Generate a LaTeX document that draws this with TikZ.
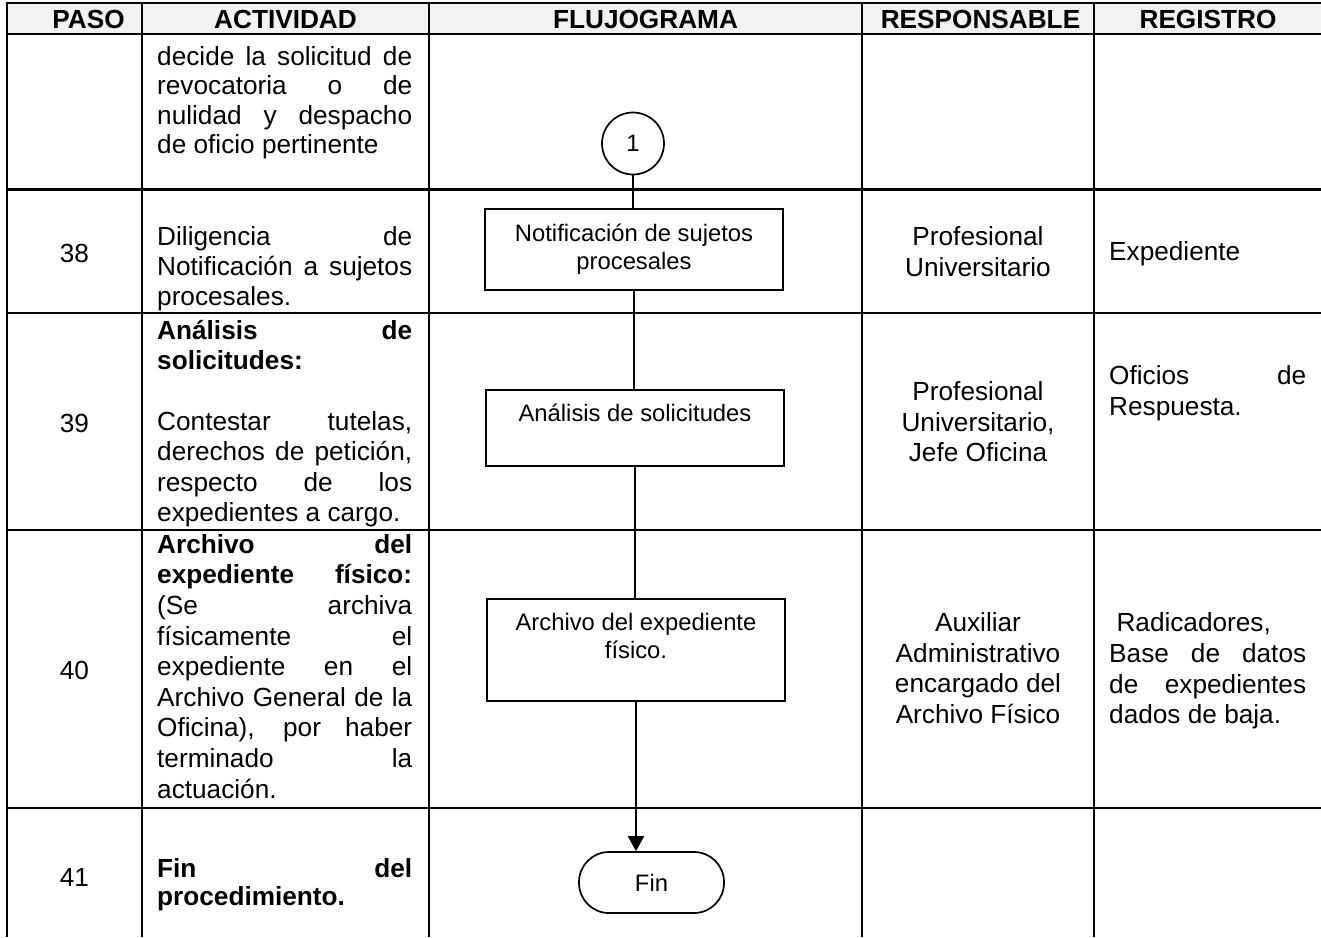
\documentclass[tikz,border=0pt]{standalone}
\usepackage{fontspec}
\setmainfont{Liberation Sans}
\usetikzlibrary{arrows.meta}
\newcommand{\jline}[2]{\makebox[#1][s]{#2}}
\begin{document}
\begin{tikzpicture}[x=1pt,y=-1pt,
  grid/.style={line width=2.7pt,black},
  hdr/.style={font=\fontsize{26.2}{30}\selectfont\bfseries,inner sep=0},
  num/.style={font=\fontsize{26.2}{30}\selectfont,inner sep=0},
  txt/.style={font=\fontsize{26.2}{30.4}\selectfont,inner sep=0,align=left,anchor=base west},
  ctr/.style={font=\fontsize{26.2}{30.6}\selectfont,inner sep=0,align=center,anchor=base},
  proc/.style={draw=black,line width=1.7pt,fill=white,minimum width=298pt,font=\fontsize{23.8}{28}\selectfont,align=center,inner sep=0},
  conn/.style={line width=2pt,black},
]
\useasboundingbox (0,0) rectangle (1321,937);
\fill[black!5] (7,3) rectangle (1321,34);
\foreach \y in {3,34,189.5,313,530,808} \draw[grid] (5.65,\y) -- (1321,\y);
\foreach \x in {7,142,429,862,1094} \draw[grid] (\x,1.65) -- (\x,937);

% headers
\node[hdr] (hpaso) at (88.5,19) {PASO};
\node[hdr] (hact) at (285.5,19) {ACTIVIDAD};
\node[hdr] (hflu) at (645.5,19) {FLUJOGRAMA};
\node[hdr] (hres) at (980.5,19) {RESPONSABLE};
\node[hdr] (hreg) at (1208,19) {REGISTRO};

% step numbers
\node[num] (n38) at (74.5,253) {38};
\node[num] (n39) at (74.5,423) {39};
\node[num] (n40) at (74.5,670) {40};
\node[num] (n41) at (74.5,877) {41};

% activities (anchor = baseline of the last line)
\def\aw{255pt}
\node[txt,font=\fontsize{26.2}{29.5}\selectfont] (a37) at (157,153.5) {\jline{\aw}{decide la solicitud de}\\ \jline{\aw}{revocatoria o de}\\ \jline{\aw}{nulidad y despacho}\\ de oficio pertinente};
\node[txt,font=\fontsize{26.2}{29.7}\selectfont] (a38) at (157,305.1) {\jline{\aw}{Diligencia de}\\ \jline{\aw}{Notificación a sujetos}\\ procesales.};
\node[txt] (a39) at (157,521.4) {\jline{\aw}{\textbf{Análisis de}}\\ \textbf{solicitudes:}\\[30.4pt] \jline{\aw}{Contestar tutelas,}\\ \jline{\aw}{derechos de petición,}\\ \jline{\aw}{respecto de los}\\ expedientes a cargo.};
\node[txt,font=\fontsize{26.2}{30.6}\selectfont] (a40) at (157,798.1) {\jline{\aw}{\textbf{Archivo del}}\\ \jline{\aw}{\textbf{expediente físico:}}\\ \jline{\aw}{(Se archiva}\\ \jline{\aw}{físicamente el}\\ \jline{\aw}{expediente en el}\\ \jline{\aw}{Archivo General de la}\\ \jline{\aw}{Oficina), por haber}\\ \jline{\aw}{terminado la}\\ actuación.};
\node[txt,font=\fontsize{26.2}{28}\selectfont] (a41) at (157,905) {\jline{\aw}{\textbf{Fin del}}\\ \textbf{procedimiento.}};

% responsables
\node[ctr] (r38) at (978,276.3) {Profesional\\Universitario};
\node[ctr] (r39) at (978,461.9) {Profesional\\Universitario,\\Jefe Oficina};
\node[ctr] (r40) at (978,723.5) {Auxiliar\\Administrativo\\encargado del\\Archivo Físico};

% registros
\def\rw{197pt}
\node[txt] (g38) at (1109,260.7) {Expediente};
\node[txt,font=\fontsize{26.2}{31}\selectfont] (g39) at (1109,415) {\jline{\rw}{Oficios de}\\ Respuesta.};
\node[txt,font=\fontsize{26.2}{30.7}\selectfont] (g40) at (1109,723.8) {\hspace*{7.3pt}Radicadores,\\ \jline{\rw}{Base de datos}\\ \jline{\rw}{de expedientes}\\ dados de baja.};

% flowchart
\node[circle,draw=black,line width=1.7pt,minimum size=62pt,inner sep=0,fill=white,font=\fontsize{23.8}{28}\selectfont] (c1) at (633,143.5) {1};
\node[proc,minimum height=81pt] (notif) at (634,249.5) {Notificación de sujetos\\procesales};
\node[proc,minimum height=76pt,text height=17pt,text depth=29.6pt] (anal) at (635,428) {Análisis de solicitudes};
\node[proc,minimum height=102pt] (arch) at (636,650) {Archivo del expediente\\físico.\\ \mbox{}};
\node[draw=black,line width=1.7pt,fill=white,rounded corners=30pt,minimum width=145pt,minimum height=61pt,inner sep=0,font=\fontsize{23.8}{28}\selectfont] (fin) at (651.5,882.5) {Fin};

\draw[conn] (c1.south) -- (c1.south |- notif.north);
\draw[conn] (notif.south) -- (notif.south |- anal.north);
\draw[conn] (anal.south) -- (anal.south |- arch.north);
\draw[conn,-{Triangle[width=16pt,length=15pt]}] (arch.south) -- (arch.south |- fin.north);
\end{tikzpicture}
\end{document}
